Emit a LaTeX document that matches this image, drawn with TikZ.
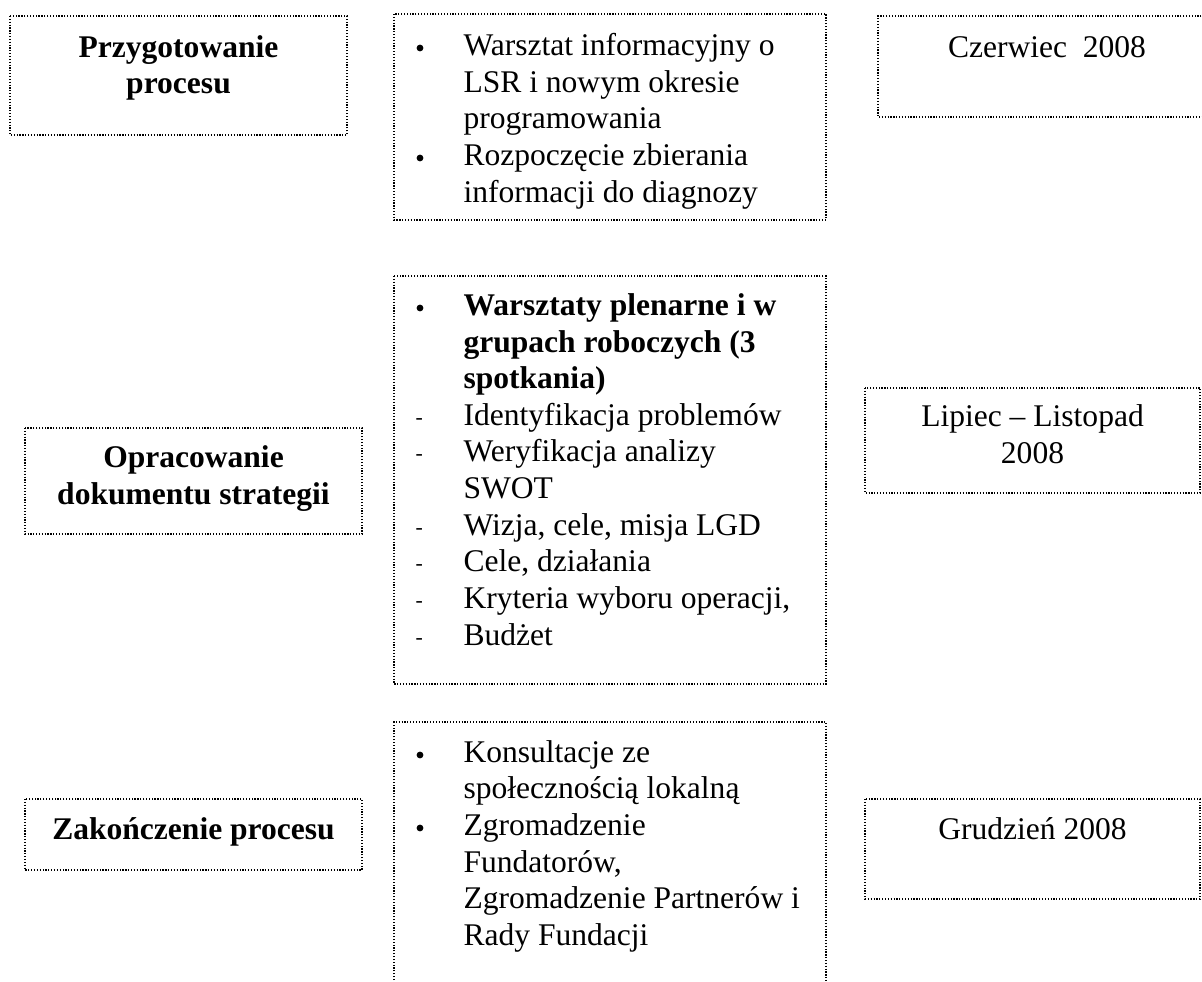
\documentclass[tikz,border=0pt]{standalone}
\usepackage{fontspec}
\setmainfont{Liberation Serif}
\newcommand\boxfont{\fontsize{11.6}{13.5}\selectfont}
\tikzset{
	frame/.style={line width=0.45pt, dash pattern=on 0.45pt off 0.6pt},
	txt/.style={anchor=base west, inner sep=0pt, font=\boxfont},
	hdr/.style={anchor=base, inner sep=0pt, font=\boxfont\bfseries},
	date/.style={anchor=base, inner sep=0pt, font=\boxfont},
}
\begin{document}
\begin{tikzpicture}[x=0.01292cm,y=-0.01292cm]

\useasboundingbox (0,0) rectangle (1202,981);

% stage names
\draw[frame] (10,16) rectangle (347,135);
\node[hdr] (prep1) at (178.5,57) {Przygotowanie};
\node[hdr] (prep2) at (178.5,93) {procesu};

\draw[frame] (25,428) rectangle (362,534);
\node[hdr] (opr1) at (193.5,467) {Opracowanie};
\node[hdr] (opr2) at (193.5,504) {dokumentu strategii};

\draw[frame] (25,799) rectangle (362,870);
\node[hdr] (zak) at (193.5,839) {Zakończenie procesu};

% activities
\draw[frame] (394,14) rectangle (826,220);
\foreach \y in {55,165}
	\fill (420,\y-7) circle (3.4);
\foreach \y/\t in {55/Warsztat informacyjny o, 92/LSR i nowym okresie,
	128/programowania, 165/Rozpoczęcie zbierania, 202/informacji do diagnozy}
	\node[txt] (a\y) at (463,\y) {\t};

\draw[frame] (394,276) rectangle (826,684);
\fill (420,308) circle (3.4);
\foreach \y/\t in {315/Warsztaty plenarne i w, 352/grupach roboczych (3, 388/spotkania)}
	\node[txt, font=\boxfont\bfseries] (b\y) at (463,\y) {\t};
\foreach \y/\t in {425/Identyfikacja problemów, 461/Weryfikacja analizy, 498/SWOT,
	535/{Wizja, cele, misja LGD}, 571/{Cele, działania},
	608/{Kryteria wyboru operacji,}, 645/Budżet}
	\node[txt] (b\y) at (463,\y) {\t};
\foreach \y in {425,461,535,571,608,645}
	\node[txt, font=\fontsize{8}{9}\selectfont] (d\y) at (415,\y-1) {-};

\draw[frame] (394,1000) -- (394,722) -- (826,722) -- (826,1000);
\foreach \y in {762,835}
	\fill (420,\y-7) circle (3.4);
\foreach \y/\t in {762/Konsultacje ze, 798/społecznością lokalną, 835/Zgromadzenie,
	872/{Fundatorów,}, 908/Zgromadzenie Partnerów i, 945/Rady Fundacji}
	\node[txt] (c\y) at (463,\y) {\t};

% dates
\draw[frame] (1210,16) -- (878,16) -- (878,117) -- (1210,117);
\node[date] (czer) at (1047,57) {Czerwiec\ \ 2008};

\draw[frame] (865,388) rectangle (1200,493);
\node[date] (lip1) at (1032.5,426) {Lipiec – Listopad};
\node[date] (lip2) at (1032.5,463) {2008};

\draw[frame] (865,799) rectangle (1200,899);
\node[date] (gru) at (1032.5,839) {Grudzień 2008};

\end{tikzpicture}
\end{document}
